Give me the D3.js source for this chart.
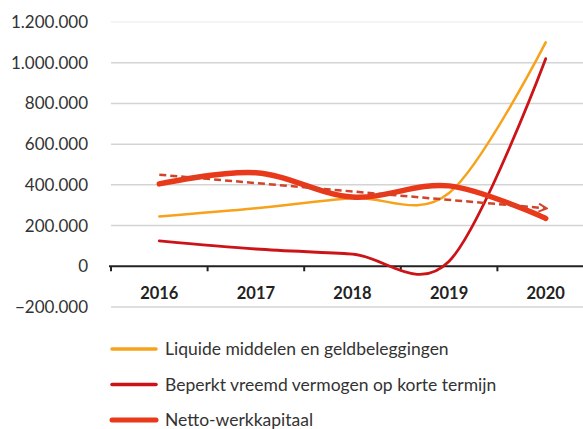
<!DOCTYPE html>
<html>
<head>
<meta charset="utf-8">
<script src="https://cdn.jsdelivr.net/npm/d3@7"></script>
<style>
  body { margin: 0; background: #fff; }
  svg { display: block; font-family: Lato, "Open Sans", sans-serif; }
  .tick-label { font-size: 17px; fill: #333; }
  .cat-label { font-size: 16.5px; font-weight: bold; fill: #222; }
  .legend-label { font-size: 17.5px; fill: #333; }
  .grid { stroke: #d4d4d4; stroke-width: 1.5px; }
</style>
</head>
<body>
<svg id="chart" width="583" height="429"></svg>
<script>
  const years = ["2016", "2017", "2018", "2019", "2020"];
  const yTicks = [-200000, 0, 200000, 400000, 600000, 800000, 1000000, 1200000];
  const liquide = [245000, 285000, 335000, 360000, 1100000];
  const beperkt = [125000, 85000, 60000, 25000, 1020000];
  const netto = [405000, 460000, 340000, 395000, 235000];
  // dashed trend of Netto-werkkapitaal, start and end values
  const trend = [450000, 285000];

  const series = [
    { name: "Liquide middelen en geldbeleggingen", values: liquide, color: "#f7a21b", width: 2.5 },
    { name: "Beperkt vreemd vermogen op korte termijn", values: beperkt, color: "#cc1418", width: 2.8 },
    { name: "Netto-werkkapitaal", values: netto, color: "#e8391b", width: 5.5 }
  ];

  const svg = d3.select("#chart");

  const x = d3.scaleBand().domain(years).range([111, 594]).padding(0);
  const y = d3.scaleLinear().domain([-200000, 1200000]).range([307, 22]);
  const cx = d => x(d) + x.bandwidth() / 2;

  const fmt = v => d3.format(",")(v).replace(/,/g, ".");

  // gridlines
  svg.append("g").selectAll("line")
    .data(yTicks.filter(t => t !== 0))
    .join("line")
    .attr("class", "grid")
    .attr("x1", 111).attr("x2", 583)
    .attr("y1", d => y(d)).attr("y2", d => y(d))
    .attr("stroke-opacity", d => d === 1200000 ? 0.35 : 1);

  // y labels
  svg.append("g").selectAll("text")
    .data(yTicks)
    .join("text")
    .attr("class", "tick-label")
    .attr("x", 88)
    .attr("y", d => y(d))
    .attr("dy", "0.35em")
    .attr("text-anchor", "end")
    .text(fmt);

  // zero axis with ticks between categories
  const axis = svg.append("g").attr("transform", `translate(0,${y(0)})`);
  axis.append("line")
    .attr("x1", 109).attr("x2", 583)
    .attr("stroke", "#222").attr("stroke-width", 2);
  axis.selectAll("line.tk")
    .data(years)
    .join("line")
    .attr("class", "tk")
    .attr("x1", d => x(d)).attr("x2", d => x(d))
    .attr("y1", 0).attr("y2", 5)
    .attr("stroke", "#222").attr("stroke-width", 2);

  svg.append("g").selectAll("text")
    .data(years)
    .join("text")
    .attr("class", "cat-label")
    .attr("x", d => cx(d))
    .attr("y", 293)
    .attr("dy", "0.35em")
    .attr("text-anchor", "middle")
    .text(d => d);

  const line = d3.line()
    .x((d, i) => cx(years[i]))
    .y(d => y(d))
    .curve(d3.curveCardinal.tension(0));

  series.forEach(s => {
    svg.append("path")
      .attr("d", line(s.values))
      .attr("fill", "none")
      .attr("stroke", s.color)
      .attr("stroke-width", s.width)
      .attr("stroke-linecap", "round");
  });

  // trend line with arrow
  const defs = svg.append("defs");
  defs.append("marker")
    .attr("id", "arrow")
    .attr("viewBox", "0 0 10 10")
    .attr("refX", 8).attr("refY", 5)
    .attr("markerWidth", 4).attr("markerHeight", 4)
    .attr("orient", "auto")
    .append("path")
    .attr("d", "M1,1 L9,5 L1,9")
    .attr("fill", "none")
    .attr("stroke", "#d2442a")
    .attr("stroke-width", 2);

  svg.append("line")
    .attr("x1", cx(years[0])).attr("y1", y(trend[0]))
    .attr("x2", cx(years[years.length - 1])).attr("y2", y(trend[1]))
    .attr("stroke", "#d2442a")
    .attr("stroke-width", 2.5)
    .attr("stroke-dasharray", "7,4")
    .attr("marker-end", "url(#arrow)");

  // legend
  const legend = svg.append("g").selectAll("g")
    .data(series)
    .join("g")
    .attr("transform", (d, i) => `translate(112,${349 + i * 35.5})`);
  legend.append("line")
    .attr("x1", 0).attr("x2", 44)
    .attr("stroke", d => d.color)
    .attr("stroke-width", d => d.width > 5 ? 5 : 3.5)
    .attr("stroke-linecap", "round");
  legend.append("text")
    .attr("class", "legend-label")
    .attr("x", 53)
    .attr("dy", "0.35em")
    .text(d => d.name);
</script>
</body>
</html>
